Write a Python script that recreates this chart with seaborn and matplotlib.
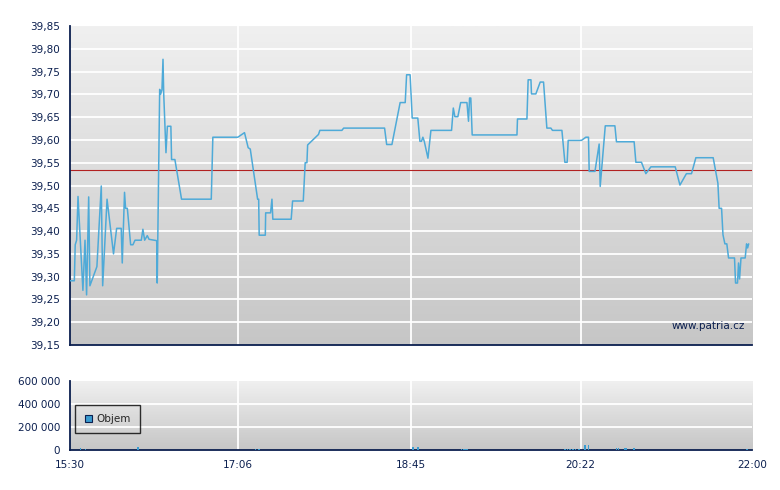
import numpy as np
import pandas as pd
import seaborn as sns
import matplotlib.pyplot as plt
from matplotlib.ticker import FuncFormatter

# Cena (minuty od 15:30, kurz)
price_min = [0.0, 2.5, 3.0, 3.8, 4.6, 7.4, 8.6, 9.5, 10.7, 11.4, 15.4, 17.9, 18.7, 21.2,
             24.9, 26.7, 29.3, 29.9, 31.2, 31.8, 32.8, 34.7, 36.0, 37.2, 40.8, 41.7, 42.7,
             44.2, 45.2, 49.6, 49.9, 51.3, 51.8, 52.6, 53.2, 53.6, 54.9, 55.7, 57.7, 58.1,
             60.0, 63.8, 80.8, 81.7, 96.0, 99.8, 101.9, 103.1, 107.3, 107.9, 108.2, 111.7,
             111.9, 114.7, 115.5, 116.0, 126.5, 127.3, 133.4, 134.5, 135.5, 135.9, 142.1,
             142.9, 155.5, 156.5, 179.9, 181.1, 184.1, 188.8, 191.7, 192.5, 194.5, 195.7,
             198.9, 200.1, 201.0, 201.8, 202.6, 204.7, 206.4, 218.2, 219.2, 220.1, 221.8,
             223.4, 227.0, 227.9, 228.5, 229.2, 230.0, 255.6, 255.9, 261.3, 262.0, 263.6,
             263.9, 266.4, 268.9, 270.8, 272.7, 275.0, 275.9, 281.3, 283.0, 284.3, 284.9,
             292.5, 295.0, 296.5, 296.9, 300.2, 302.6, 303.2, 306.1, 311.6, 312.5, 322.6,
             323.6, 326.8, 329.3, 332.2, 346.1, 348.8, 352.5, 355.4, 357.9, 367.8, 370.5,
             371.2, 372.6, 373.4, 374.5, 375.6, 376.6, 380.0, 380.6, 381.7, 382.3, 382.9,
             383.7, 386.1, 386.9, 387.5, 388.1]
price_val = [39.291, 39.291, 39.370, 39.380, 39.476, 39.270, 39.380, 39.260, 39.475, 39.280,
             39.322, 39.499, 39.280, 39.470, 39.350, 39.406, 39.406, 39.330, 39.485, 39.450,
             39.450, 39.370, 39.370, 39.380, 39.380, 39.404, 39.380, 39.390, 39.382, 39.379,
             39.286, 39.711, 39.700, 39.710, 39.777, 39.702, 39.572, 39.630, 39.630, 39.557,
             39.557, 39.470, 39.470, 39.606, 39.606, 39.616, 39.583, 39.580, 39.470, 39.470,
             39.391, 39.391, 39.440, 39.440, 39.470, 39.426, 39.426, 39.466, 39.466, 39.550,
             39.550, 39.589, 39.612, 39.621, 39.621, 39.626, 39.626, 39.590, 39.590, 39.682,
             39.682, 39.743, 39.743, 39.648, 39.648, 39.597, 39.597, 39.606, 39.597, 39.560,
             39.621, 39.621, 39.670, 39.651, 39.651, 39.682, 39.682, 39.641, 39.692, 39.692,
             39.611, 39.611, 39.646, 39.646, 39.732, 39.732, 39.701, 39.701, 39.727, 39.727,
             39.626, 39.626, 39.621, 39.621, 39.551, 39.551, 39.599, 39.599, 39.606, 39.606,
             39.531, 39.531, 39.591, 39.498, 39.631, 39.631, 39.596, 39.596, 39.551, 39.551,
             39.526, 39.541, 39.541, 39.501, 39.526, 39.526, 39.561, 39.561, 39.505, 39.450,
             39.450, 39.392, 39.372, 39.372, 39.341, 39.341, 39.286, 39.286, 39.330, 39.295,
             39.341, 39.341, 39.372, 39.363, 39.372]

# Objem
vol_min = [6, 9, 39, 106, 108, 196, 199, 224, 225, 226, 227, 283, 284.5, 286, 287.5, 289,
           291, 294.6, 296.4, 312.5, 313.7, 317, 318, 322.6, 387]
vol_val = [15000, 12000, 22000, 8000, 8000, 28000, 28000, 8000, 8000, 8000, 8000, 8000,
           8000, 8000, 8000, 8000, 9000, 43000, 43000, 20000, 20000, 16000, 16000, 16000, 8000]

ref_price = 39.535
x_ticks = [0, 96, 195, 292, 390]
x_labels = ["15:30", "17:06", "18:45", "20:22", "22:00"]
y_ticks = [39.15, 39.20, 39.25, 39.30, 39.35, 39.40, 39.45, 39.50, 39.55, 39.60, 39.65,
           39.70, 39.75, 39.80, 39.85]
vol_ticks = [0, 200000, 400000, 600000]

navy = "#0b1f4f"
sns.set_theme(style="white")
plt.rcParams["font.family"] = ["DejaVu Sans"]
plt.rcParams["font.size"] = 7.5

df = pd.DataFrame({"t": price_min, "cena": price_val})

fig = plt.figure(figsize=(7.8, 4.9), dpi=100)
ax = fig.add_axes([0.0897, 0.2959, 0.8744, 0.651])
axv = fig.add_axes([0.0897, 0.0816, 0.8744, 0.1408])

grad = np.linspace(0, 1, 256).reshape(-1, 1)
cmap = plt.matplotlib.colors.LinearSegmentedColormap.from_list("g", ["#f0f0f0", "#c6c6c6"])
for a in (ax, axv):
    a.imshow(grad, extent=[0, 1, 0, 1], transform=a.transAxes, aspect="auto",
             cmap=cmap, zorder=0)
    a.set_xlim(0, 390)
    a.set_xticks(x_ticks)
    for s in ("top", "right"):
        a.spines[s].set_visible(False)
    for s in ("left", "bottom"):
        a.spines[s].set_color(navy)
        a.spines[s].set_linewidth(1.3)
    a.tick_params(colors=navy, labelcolor=navy, length=5, width=1.2, direction="out",
                  labelsize=7.5, pad=2)
    for xt in x_ticks[1:-1]:
        a.axvline(xt, color="white", lw=1.3, zorder=1)

# cena
for yt in y_ticks[1:-1]:
    ax.axhline(yt, color="white", lw=1.3, zorder=1)
sns.lineplot(data=df, x="t", y="cena", ax=ax, sort=False, estimator=None,
             color="#4eaad8", lw=1.1, zorder=3)
ax.axhline(ref_price, color="#b22222", lw=0.8, zorder=2)
ax.set_ylim(39.15, 39.85)
ax.set_yticks(y_ticks)
ax.yaxis.set_major_formatter(FuncFormatter(lambda v, p: f"{v:.2f}".replace(".", ",")))
ax.set_xticklabels([])
ax.set_xlabel("")
ax.set_ylabel("")
ax.text(0.99, 0.06, "www.patria.cz", transform=ax.transAxes, ha="right", va="center",
        color=navy, fontsize=7.5, zorder=4)

# objem
for yt in vol_ticks[1:-1]:
    axv.axhline(yt, color="white", lw=1.3, zorder=1)
axv.bar(vol_min, vol_val, width=0.9, color="#3a9bd0", edgecolor="none", linewidth=0,
        zorder=3, label="Objem")
axv.set_ylim(0, 600000)
axv.set_yticks(vol_ticks)
axv.yaxis.set_major_formatter(FuncFormatter(lambda v, p: f"{int(v):,}".replace(",", " ")))
axv.set_xticklabels(x_labels)
leg = axv.legend(loc="center left", bbox_to_anchor=(0.0, 0.45), frameon=True, fancybox=False,
                 handlelength=0.7, handleheight=0.7, handletextpad=0.4, borderpad=0.9,
                 fontsize=7.5)
leg.get_frame().set_edgecolor("black")
leg.get_frame().set_facecolor("none")
leg.get_frame().set_linewidth(1.0)
for h in leg.legend_handles:
    h.set_edgecolor(navy)
    h.set_linewidth(0.8)

fig.savefig("out.png", dpi=100)
